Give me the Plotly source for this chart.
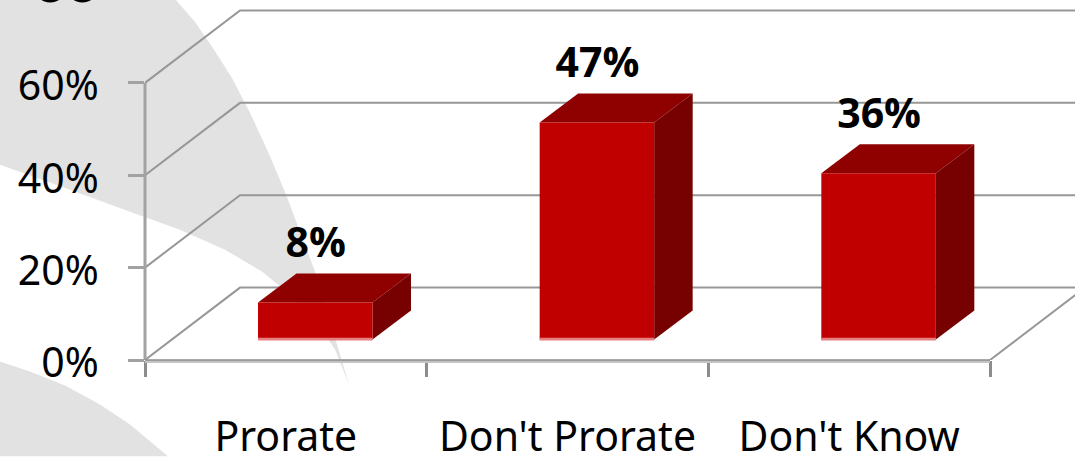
import plotly.graph_objects as go

# Survey results
categories = ["Prorate", "Don't Prorate", "Don't Know"]
values = [8, 47, 36]
value_labels = ["8%", "47%", "36%"]
y_ticks = [0, 20, 40, 60]
y_tick_labels = ["0%", "20%", "40%", "60%"]

# Plot-area geometry in pixels; the plot runs to the top and right page edges
# so the receding walls stay visible beyond the front axes
W, H = 1075, 457
LEFT, FRONT_RIGHT, FRONT_TOP, BOTTOM = 145, 990, 83, 360.5
CAT_PX = (FRONT_RIGHT - LEFT) / 3
PCT_PX = (BOTTOM - FRONT_TOP) / 60
X_VIEW = (W - LEFT) / CAT_PX
Y_VIEW = BOTTOM / PCT_PX

# Oblique projection of the floor and walls, in data units
WALL_DX = 95 / CAT_PX
WALL_DY = 72.5 / PCT_PX
BAR_NEAR_DX = 113 / CAT_PX
BAR_NEAR_DY = 20.5 / PCT_PX
BAR_DX = 38.5 / CAT_PX
BAR_DY = 29 / PCT_PX
BAR_WIDTH = 114.5 / CAT_PX
X0, X1 = 0, 3

FACE_FRONT = "#c00000"
FACE_TOP = "#8f0000"
FACE_SIDE = "#770000"
BASE_EDGE = "#e57f80"
GRID = "#979797"
GRID_SOFT = "#c4c4c4"
AXIS = "#a2a2a2"
AXIS_DARK = "#8c8c8c"

fig = go.Figure()

# Wall gridlines: one slanted run across the side wall, then along the back wall
for v in y_ticks:
    fig.add_trace(go.Scatter(
        x=[X0, X0 + WALL_DX, X1 + WALL_DX],
        y=[v, v + WALL_DY, v + WALL_DY],
        mode="lines", line=dict(color=GRID, width=2),
        hoverinfo="skip", showlegend=False,
    ))

# Floor edge on the right
fig.add_trace(go.Scatter(
    x=[X1, X1 + WALL_DX], y=[0, WALL_DY],
    mode="lines", line=dict(color=GRID, width=2),
    hoverinfo="skip", showlegend=False,
))

# Top and side faces of each column, projected from its value
for i, v in enumerate(values):
    xl = X0 + i + BAR_NEAR_DX
    xr = xl + BAR_WIDTH
    yb = BAR_NEAR_DY
    yt = yb + v
    fig.add_trace(go.Scatter(
        x=[xl, xr, xr + BAR_DX, xl + BAR_DX, xl],
        y=[yt, yt, yt + BAR_DY, yt + BAR_DY, yt],
        mode="lines", fill="toself", fillcolor=FACE_TOP,
        line=dict(width=0), hoverinfo="skip", showlegend=False,
    ))
    fig.add_trace(go.Scatter(
        x=[xr, xr + BAR_DX, xr + BAR_DX, xr, xr],
        y=[yb, yb + BAR_DY, yt + BAR_DY, yt, yb],
        mode="lines", fill="toself", fillcolor=FACE_SIDE,
        line=dict(width=0), hoverinfo="skip", showlegend=False,
    ))

# Value labels above each column
fig.add_trace(go.Scatter(
    x=[X0 + i + BAR_NEAR_DX + BAR_WIDTH / 2 + 0.002 for i in range(len(values))],
    y=[v + BAR_NEAR_DY + 12.1 for v in values],
    mode="text", text=value_labels,
    textfont=dict(family="Open Sans", size=41, color="#000000", weight="bold"),
    textposition="middle center",
    hoverinfo="skip", showlegend=False,
))

# Front faces, on the category axis
fig.add_trace(go.Bar(
    x=categories, y=values, xaxis="x2",
    base=[BAR_NEAR_DY] * len(values),
    width=BAR_WIDTH, offset=-0.5 + BAR_NEAR_DX,
    marker=dict(color=FACE_FRONT, line=dict(width=0)),
    showlegend=False, hoverinfo="skip",
))

# Pale strip along the bottom edge of the front faces
fig.add_trace(go.Bar(
    x=categories, y=[0.6] * len(values), xaxis="x2",
    base=[BAR_NEAR_DY - 0.2] * len(values),
    width=BAR_WIDTH, offset=-0.5 + BAR_NEAR_DX,
    marker=dict(color=BASE_EDGE, line=dict(width=0)),
    showlegend=False, hoverinfo="skip",
))

# Pale backdrop swooshes, given in page pixels and converted to paper coordinates
def paper_x(x):
    return (x - LEFT) / (W - LEFT)

def paper_y(y):
    return (BOTTOM - y) / BOTTOM

def page_path(points):
    return "M " + " L ".join(f"{paper_x(x):.4f},{paper_y(y):.4f}" for x, y in points) + " Z"

upper_swoosh = [
    (0, 0), (176, 0), (195, 22), (213, 48), (232, 78), (250, 113), (268, 152),
    (285, 192), (300, 232), (315, 272), (328, 315), (340, 355), (349, 385),
    (335, 350), (315, 320), (290, 295), (262, 272), (225, 250), (180, 230),
    (130, 212), (70, 190), (0, 165),
]
lower_swoosh = [
    (0, 362), (30, 372), (65, 386), (100, 405), (130, 425), (168, 457), (0, 457),
]
shapes = [
    dict(type="path", xref="paper", yref="paper", path=page_path(p),
         fillcolor="#e2e2e2", line=dict(width=0), layer="below")
    for p in (upper_swoosh, lower_swoosh)
]

# Front axis lines stop at the front plane rather than at the plot edge
shapes += [
    dict(type="line", xref="paper", yref="y", x0=0, x1=0, y0=0, y1=60,
         line=dict(color=AXIS, width=3), layer="above"),
    dict(type="line", xref="x", yref="paper", x0=X0, x1=X1, y0=-1.5 / BOTTOM, y1=-1.5 / BOTTOM,
         line=dict(color=GRID_SOFT, width=3), layer="above"),
    dict(type="line", xref="x", yref="paper", x0=X0, x1=X1, y0=0, y1=0,
         line=dict(color=AXIS_DARK, width=1.5), layer="above"),
]

fig.update_layout(
    width=W, height=H,
    margin=dict(l=LEFT, r=0, t=0, b=H - BOTTOM, autoexpand=False),
    paper_bgcolor="#ffffff", plot_bgcolor="rgba(0,0,0,0)",
    showlegend=False, barmode="overlay",
    font=dict(family="Noto Sans", color="#000000"),
    shapes=shapes,
    # Lower edge of a heading that runs off the top of the page
    annotations=[dict(
        text="oo", xref="paper", yref="paper", x=paper_x(66), y=paper_y(19),
        xanchor="center", yanchor="bottom", showarrow=False,
        font=dict(family="Open Sans", size=52, color="#000000", weight="bold"),
    )],
    xaxis=dict(range=[X0, X_VIEW], visible=False, fixedrange=True),
    xaxis2=dict(
        type="category", categoryorder="array", categoryarray=categories,
        overlaying="x", anchor="y", side="bottom",
        range=[-0.5, X_VIEW - 0.5], tickson="boundaries",
        ticks="outside", ticklen=16, tickwidth=3, tickcolor=AXIS_DARK,
        showline=False, showgrid=False,
        tickfont=dict(family="Noto Sans", size=41, color="#000000"),
        ticklabelstandoff=49, zeroline=False,
    ),
    yaxis=dict(
        range=[0, Y_VIEW], tickmode="array", tickvals=y_ticks, ticktext=y_tick_labels,
        ticks="outside", ticklen=16, tickwidth=3, tickcolor=AXIS,
        showline=False, showgrid=False,
        tickfont=dict(family="Noto Sans", size=41, color="#000000"),
        ticklabelstandoff=21, ticklabelshift=3, zeroline=False,
    ),
)

fig.write_html("out.html", config=dict(displayModeBar=False))
